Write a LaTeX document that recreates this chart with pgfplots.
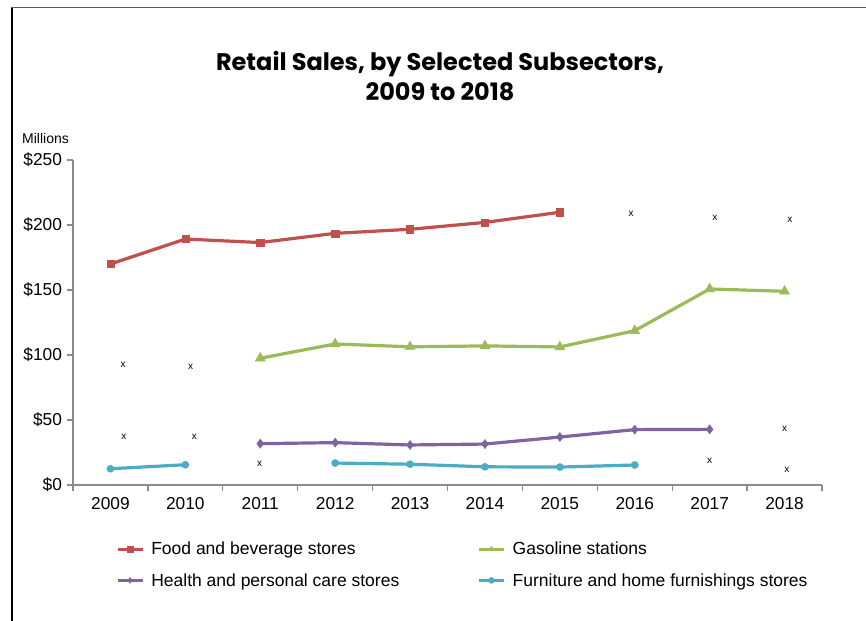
\documentclass[border=0pt]{standalone}
\usepackage{pgfplots}
\pgfplotsset{compat=1.18}
\usepackage{fontspec}
\setmainfont{Liberation Sans}
\newfontfamily\titlefont{Poppins}
\definecolor{cFood}{HTML}{C0504D}
\definecolor{cGas}{HTML}{9BBB59}
\definecolor{cHealth}{HTML}{8064A2}
\definecolor{cFurn}{HTML}{4BACC6}
\definecolor{axgray}{HTML}{8C8C8C}
\begin{document}
\begin{tikzpicture}[x=1bp,y=1bp]
\path[use as bounding box] (0,0) rectangle (866,-621);
\draw[line width=1.6bp, black] (12,-621) -- (12,-7.5);
\draw[line width=1.6bp, black!65] (11.2,-7.5) -- (866,-7.5);
\node[font=\titlefont\bfseries\fontsize{24bp}{28bp}\selectfont, anchor=base] at (440,-71) {Retail Sales, by Selected Subsectors,};
\node[font=\titlefont\bfseries\fontsize{24bp}{28bp}\selectfont, anchor=base] at (440,-101) {2009 to 2018};
\node[font=\fontsize{14bp}{16bp}\selectfont, anchor=base west, inner sep=0pt] at (22,-144) {Millions};
\begin{axis}[
  at={(73bp,-485bp)}, anchor=south west,
  scale only axis, width=749bp, height=325bp,
  xmin=-0.5, xmax=9.5, ymin=0, ymax=250,
  axis x line*=bottom, axis y line*=left,
  axis line style={axgray, line width=1.3bp},
  xtick={0,...,9},
  xticklabels={2009,2010,2011,2012,2013,2014,2015,2016,2017,2018},
  minor xtick={-0.5,0.5,...,9.5},
  major x tick style={draw=none},
  ytick={0,50,100,150,200,250},
  yticklabels={\$0,\$50,\$100,\$150,\$200,\$250},
  tick align=outside,
  major tick length=6bp, minor tick length=6bp,
  tick style={axgray, line width=1.3bp},
  ticklabel style={font=\fontsize{17.3bp}{20bp}\selectfont},
  xticklabel style={yshift=-3bp},
  yticklabel style={xshift=-1.5bp},
  unbounded coords=jump,
  legend columns=2,
  legend cell align=left,
  legend style={at={(0.053,-0.163)}, anchor=north west, draw=none, fill=none,
    font=\fontsize{17.5bp}{20bp}\selectfont, row sep=13bp,
    /tikz/every odd column/.append style={column sep=5bp},
    /tikz/every even column/.append style={column sep=76bp}},
  legend image code/.code={\draw[line width=3.4bp, mark size=3bp, mark repeat=2, mark phase=2] plot coordinates {(0bp,0bp) (12.5bp,0bp) (25bp,0bp)};},
]
\addplot[cFood, line width=3.2bp, mark=square*, mark size=3.6bp, mark options={solid, line width=0.4bp}]
  coordinates {(0,170) (1,189.2) (2,186.5) (3,193.6) (4,196.7) (5,202) (6,209.8)};
\addlegendentry{Food and beverage stores}
\addplot[cGas, line width=3.2bp, mark=triangle*, mark size=5.8bp, mark options={solid, line width=0.4bp}]
  coordinates {(2,97.5) (3,108.5) (4,106.3) (5,107) (6,106.2) (7,118.7) (8,150.8) (9,149)};
\addlegendentry{Gasoline stations}
\addplot[cHealth, line width=3.2bp, mark=diamond*, mark size=4.6bp, mark options={solid, line width=0.4bp}]
  coordinates {(2,31.8) (3,32.6) (4,30.8) (5,31.5) (6,36.9) (7,42.6) (8,42.8)};
\addlegendentry{Health and personal care stores}
\addplot[cFurn, line width=3.2bp, mark=*, mark size=3.6bp, mark options={solid, line width=0.4bp}]
  coordinates {(0,12.5) (1,15.6) (2,nan) (3,16.9) (4,16) (5,14) (6,13.8) (7,15.4)};
\addlegendentry{Furniture and home furnishings stores}
\addplot[forget plot, only marks, black, mark=text, text mark={\fontsize{10bp}{12bp}\selectfont x}]
  coordinates {(0.17,92.5) (1.07,90.8) (0.18,36.9) (1.12,36.9) (1.99,16.4)
               (6.95,208.5) (8.07,205.4) (9.07,203.8) (8.0,18.5) (9.0,43.3) (9.03,11.5)};
\end{axis}
\end{tikzpicture}
\end{document}
